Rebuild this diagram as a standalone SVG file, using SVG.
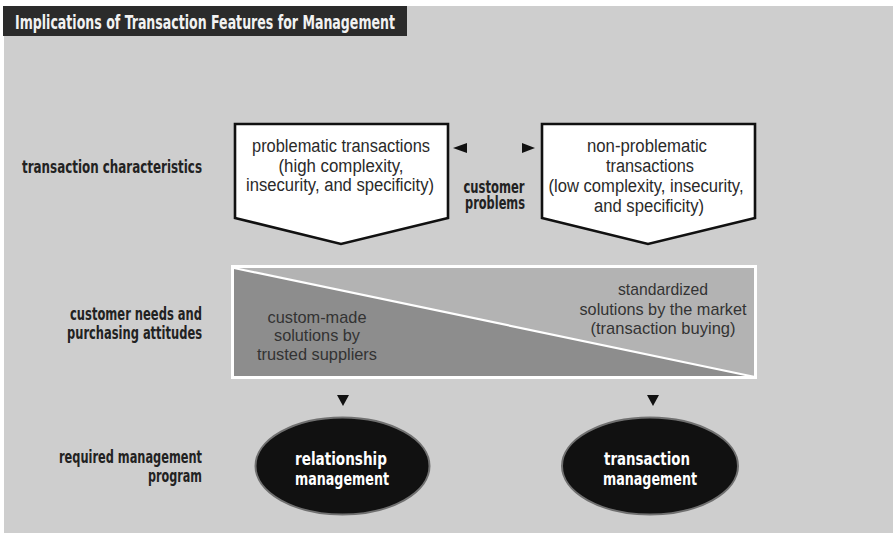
<svg xmlns="http://www.w3.org/2000/svg" width="893" height="535" viewBox="0 0 893 535">
  <style>
    .lbl { font-family: "DejaVu Sans Condensed", "DejaVu Sans", sans-serif; font-weight: bold; font-size: 17px; fill: #222222; }
    .box { font-family: "Liberation Sans", Arial, sans-serif; font-size: 18px; fill: #2a2a2a; text-anchor: middle; }
    .band { font-family: "Liberation Sans", Arial, sans-serif; font-size: 17px; fill: #333333; text-anchor: middle; }
    .oval { font-family: "DejaVu Sans Condensed", "DejaVu Sans", sans-serif; font-weight: bold; font-size: 17px; fill: #ffffff; text-anchor: middle; }
    .pent { fill: #ffffff; stroke: #111111; stroke-width: 2.6; stroke-linejoin: miter; }
    .ell { fill: #111111; stroke: #707070; stroke-width: 2; }
    .tri { fill: #111111; }
  </style>

  <!-- page -->
  <rect x="0" y="0" width="893" height="535" fill="#ffffff"/>
  <rect x="4" y="6" width="889" height="527" fill="#cecece"/>

  <!-- title bar -->
  <g id="title">
    <rect x="3" y="6" width="404" height="30" fill="#2b2b2b"/>
    <text x="15" y="29" font-family="'DejaVu Sans Condensed', 'DejaVu Sans', sans-serif" font-weight="bold" font-size="19" fill="#f2f2f2" textLength="380" lengthAdjust="spacingAndGlyphs">Implications of Transaction Features for Management</text>
  </g>

  <!-- row labels -->
  <g id="row-labels" text-anchor="end">
    <text class="lbl" x="202" y="173" textLength="180" lengthAdjust="spacingAndGlyphs">transaction characteristics</text>
    <text class="lbl" x="202" y="320" textLength="132" lengthAdjust="spacingAndGlyphs">customer needs and</text>
    <text class="lbl" x="202" y="339" textLength="135" lengthAdjust="spacingAndGlyphs">purchasing attitudes</text>
    <text class="lbl" x="202" y="463" textLength="143" lengthAdjust="spacingAndGlyphs">required management</text>
    <text class="lbl" x="202" y="482" textLength="54" lengthAdjust="spacingAndGlyphs">program</text>
  </g>

  <!-- problematic transactions -->
  <g id="problematic">
    <polygon class="pent" points="235,124 448,124 448,218 341,244 235,218"/>
    <text class="box" x="341" y="152" textLength="178" lengthAdjust="spacingAndGlyphs">problematic transactions</text>
    <text class="box" x="341" y="172" textLength="125" lengthAdjust="spacingAndGlyphs">(high complexity,</text>
    <text class="box" x="340" y="191" textLength="188" lengthAdjust="spacingAndGlyphs">insecurity, and specificity)</text>
  </g>

  <!-- non-problematic transactions -->
  <g id="non-problematic">
    <polygon class="pent" points="542,124 755,124 755,218 648,244 542,218"/>
    <text class="box" x="647" y="152" textLength="120" lengthAdjust="spacingAndGlyphs">non-problematic</text>
    <text class="box" x="650" y="172" textLength="88" lengthAdjust="spacingAndGlyphs">transactions</text>
    <text class="box" x="646" y="192" textLength="195" lengthAdjust="spacingAndGlyphs">(low complexity, insecurity,</text>
    <text class="box" x="649" y="212" textLength="110" lengthAdjust="spacingAndGlyphs">and specificity)</text>
  </g>

  <!-- customer problems -->
  <g id="customer-problems">
    <text class="lbl" x="494" y="192.5" font-size="13" text-anchor="middle" textLength="61" lengthAdjust="spacingAndGlyphs">customer</text>
    <text class="lbl" x="495" y="208.5" font-size="13" text-anchor="middle" textLength="60" lengthAdjust="spacingAndGlyphs">problems</text>
  </g>

  <!-- purchasing attitude band -->
  <g id="attitudes">
    <polygon points="233,267 755,267 755,377" fill="#b3b3b3"/>
    <polygon points="233,267 755,377 233,377" fill="#8d8d8d"/>
    <line x1="234" y1="268" x2="755" y2="377" stroke="#ffffff" stroke-width="2.2"/>
    <rect x="232.5" y="266.5" width="523" height="111" fill="none" stroke="#ffffff" stroke-width="3"/>
    <text class="band" x="317" y="323" textLength="99" lengthAdjust="spacingAndGlyphs">custom-made</text>
    <text class="band" x="317" y="341" textLength="86" lengthAdjust="spacingAndGlyphs">solutions by</text>
    <text class="band" x="317" y="360" textLength="120" lengthAdjust="spacingAndGlyphs">trusted suppliers</text>
    <text class="band" x="663" y="295" textLength="90" lengthAdjust="spacingAndGlyphs">standardized</text>
    <text class="band" x="663" y="315" textLength="167" lengthAdjust="spacingAndGlyphs">solutions by the market</text>
    <text class="band" x="663" y="334" textLength="145" lengthAdjust="spacingAndGlyphs">(transaction buying)</text>
  </g>

  <!-- relationship management -->
  <g id="relationship-management">
    <ellipse class="ell" cx="342.5" cy="466" rx="87" ry="48.5"/>
    <text class="oval" x="341" y="465" textLength="92" lengthAdjust="spacingAndGlyphs">relationship</text>
    <text class="oval" x="342" y="485" textLength="94" lengthAdjust="spacingAndGlyphs">management</text>
  </g>

  <!-- transaction management -->
  <g id="transaction-management">
    <ellipse class="ell" cx="650" cy="466" rx="88" ry="48.5"/>
    <text class="oval" x="647" y="465" textLength="86" lengthAdjust="spacingAndGlyphs">transaction</text>
    <text class="oval" x="650" y="485" textLength="94" lengthAdjust="spacingAndGlyphs">management</text>
  </g>

  <!-- connectors -->
  <g id="connectors">
    <polygon class="tri" points="453,148 467,143 467,153"/>
    <polygon class="tri" points="535,148 522,143 522,153"/>
    <polygon class="tri" points="337,395 349,395 343,406"/>
    <polygon class="tri" points="647,395 659,395 653,406"/>
  </g>
</svg>
